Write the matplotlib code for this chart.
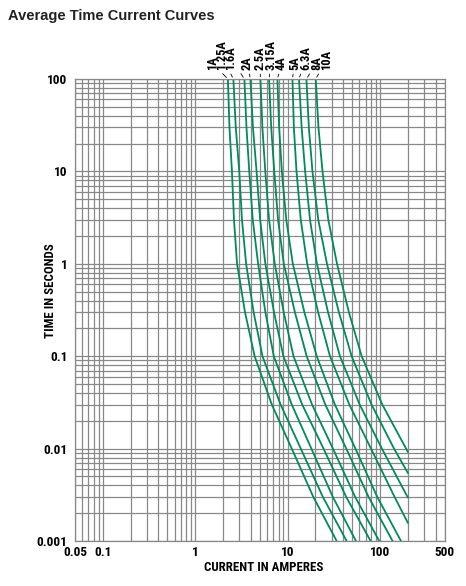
import matplotlib
matplotlib.use('Agg')
import matplotlib.pyplot as plt
from matplotlib.ticker import LogLocator, NullFormatter

plt.rcParams['font.family'] = ['Roboto Condensed', 'DejaVu Sans']
plt.rcParams['font.stretch'] = 'condensed'
plt.rcParams['font.weight'] = 'bold'

# fuse ratings, label text on top of the chart
ratings = ['1A', '1.25A', '1.6A', '2A', '2.5A', '3.15A', '4A', '5A', '6.3A', '8A', '10A']

# time points (s)
t_full = [100, 30, 10, 3, 1, 0.3, 0.1, 0.03, 0.01, 0.003, 0.001]
t_5a = [100, 30, 10, 3, 1, 0.3, 0.1, 0.03, 0.01, 0.003, 0.00158]
t_63a = [100, 30, 10, 3, 1, 0.3, 0.1, 0.03, 0.01, 0.00297]
t_8a = [100, 30, 10, 3, 1, 0.3, 0.1, 0.03, 0.01, 0.00548]
t_10a = [100, 30, 10, 3, 1, 0.3, 0.1, 0.03, 0.00925]

# current (A) at those times
i_1a = [2.26, 2.35, 2.50, 2.63, 2.84, 3.46, 4.40, 6.75, 11.1, 19.0, 34.0]
i_125a = [2.59, 2.75, 3.00, 3.21, 3.56, 4.29, 5.35, 8.40, 13.9, 24.1, 43.6]
i_16a = [3.41, 3.59, 3.85, 4.20, 4.80, 5.75, 7.10, 11.1, 18.1, 30.9, 55.0]
i_2a = [3.96, 4.22, 4.62, 5.05, 5.75, 7.13, 9.01, 14.4, 24.5, 43.1, 79.3]
i_25a = [5.08, 5.34, 5.74, 6.31, 7.27, 9.08, 11.6, 18.4, 31.0, 53.9, 98.3]
i_315a = [6.31, 6.65, 7.18, 7.89, 9.10, 12.0, 16.1, 25.6, 43.2, 75.3, 137]
i_4a = [7.76, 8.11, 8.67, 9.68, 11.4, 15.2, 20.7, 32.5, 54.3, 93.5, 169]
i_5a = [11.3, 11.7, 12.5, 13.9, 16.3, 21.4, 28.8, 46.6, 80.0, 144, 200]
i_63a = [13.3, 14.2, 15.5, 17.5, 20.8, 27.4, 36.9, 60.3, 105, 200]
i_8a = [16.0, 17.0, 18.6, 21.5, 26.7, 35.9, 49.4, 81.1, 142, 200]
i_10a = [20.2, 21.6, 23.9, 27.6, 34.3, 46.1, 63.4, 106, 200]

curves = [
    (t_full, i_1a), (t_full, i_125a), (t_full, i_16a), (t_full, i_2a),
    (t_full, i_25a), (t_full, i_315a), (t_full, i_4a), (t_5a, i_5a),
    (t_63a, i_63a), (t_8a, i_8a), (t_10a, i_10a),
]

# horizontal shift of each label from the top of its curve (pixels)
label_dx = [-15.5, -12, -13.5, -3, -0.5, 2, 4, 2, 7, 10, 10.5]

x_ticks = [0.05, 0.1, 1, 10, 100, 500]
x_tick_labels = ['0.05', '0.1', '1', '10', '100', '500']
y_ticks = [0.001, 0.01, 0.1, 1, 10, 100]
y_tick_labels = ['0.001', '0.01', '0.1', '1', '10', '100']

green = '#008a5e'
grid_col = '#888888'

fig = plt.figure(figsize=(4.66, 5.86), dpi=100)
ax = fig.add_axes([75 / 466, 45 / 586, 369.5 / 466, 462 / 586])
ax.set_xscale('log')
ax.set_yscale('log')
ax.set_xlim(0.05, 500)
ax.set_ylim(0.001, 100)

ax.set_xticks(x_ticks)
ax.set_xticklabels(x_tick_labels)
ax.set_yticks(y_ticks)
ax.set_yticklabels(y_tick_labels)
for axis in (ax.xaxis, ax.yaxis):
    axis.set_minor_locator(LogLocator(base=10, subs=range(2, 10), numticks=20))
    axis.set_minor_formatter(NullFormatter())
ax.tick_params(which='both', length=0, labelsize=9.5)
ax.tick_params(axis='x', pad=3.5)
ax.tick_params(axis='y', pad=5.5)

ax.grid(which='both', color=grid_col, lw=0.9)
for sp in ax.spines.values():
    sp.set_color(grid_col)
    sp.set_linewidth(0.9)

for (tt, ii) in curves:
    ax.plot(ii, tt, color=green, lw=1.3, solid_joinstyle='round')

for name, (tt, ii), dx in zip(ratings, curves, label_dx):
    ax.annotate(name, xy=(ii[0], tt[0]), xytext=(dx, 9), textcoords='offset pixels',
                rotation=90, ha='center', va='bottom', fontsize=9, fontweight='bold',
                arrowprops=dict(arrowstyle='-', lw=0.6, color='black', shrinkA=1, shrinkB=1.5),
                annotation_clip=False)

ax.set_xlabel('CURRENT IN AMPERES', fontsize=9.3, fontweight='bold')
ax.xaxis.set_label_coords(0.511, -0.044)
ax.set_ylabel('TIME IN SECONDS', fontsize=9.3, fontweight='bold')
ax.yaxis.set_label_coords(-0.049, 0.541)

fig.text(8 / 466, 1 - 15.7 / 586, 'Average Time Current Curves', fontsize=10.5,
         fontweight='bold', family=['Liberation Sans', 'DejaVu Sans'], stretch='normal',
         va='center', ha='left', color='#222222')

fig.savefig('out.png', dpi=100)
